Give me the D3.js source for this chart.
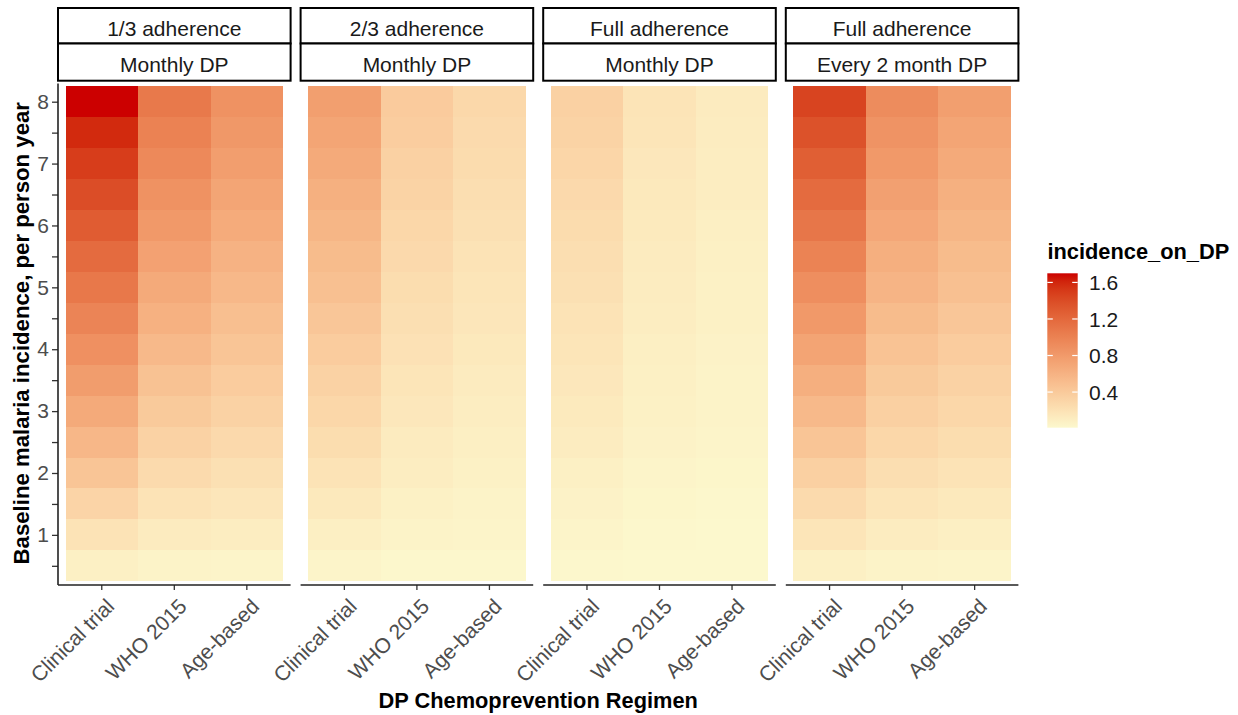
<!DOCTYPE html>
<html>
<head>
<meta charset="utf-8">
<script src="https://cdn.jsdelivr.net/npm/d3@7"></script>
<style>
  html, body { margin: 0; padding: 0; background: #fff; }
  svg { display: block; font-family: "Liberation Sans", Arial, sans-serif; }
</style>
</head>
<body>
<svg id="chart" width="1238" height="715"></svg>
<script>
// ---------------- DATA ----------------
const regimens = ["Clinical trial", "WHO 2015", "Age-based"];
const stripTop = ["1/3 adherence", "2/3 adherence", "Full adherence", "Full adherence"];
const stripBottom = ["Monthly DP", "Monthly DP", "Monthly DP", "Every 2 month DP"];
const baseline = [0.5, 1, 1.5, 2, 2.5, 3, 3.5, 4, 4.5, 5, 5.5, 6, 6.5, 7, 7.5, 8];
const yTickLabels = ["1", "2", "3", "4", "5", "6", "7", "8"];
const legendTicks = [0.4, 0.8, 1.2, 1.6];

// incidence_on_DP, ordered by baseline (0.5 -> 8)
const adh13_clinical = [0.08, 0.19, 0.31, 0.44, 0.56, 0.67, 0.78, 0.88, 0.98, 1.08, 1.18, 1.29, 1.39, 1.49, 1.59, 1.70];
const adh13_who      = [0.05, 0.12, 0.19, 0.26, 0.33, 0.40, 0.47, 0.54, 0.61, 0.67, 0.74, 0.81, 0.87, 0.94, 1.00, 1.07];
const adh13_age      = [0.04, 0.10, 0.16, 0.21, 0.27, 0.33, 0.38, 0.44, 0.49, 0.55, 0.60, 0.66, 0.71, 0.77, 0.82, 0.87];

const adh23_clinical = [0.04, 0.09, 0.14, 0.19, 0.24, 0.29, 0.33, 0.38, 0.43, 0.48, 0.52, 0.57, 0.62, 0.67, 0.71, 0.76];
const adh23_who      = [0.02, 0.05, 0.07, 0.10, 0.12, 0.15, 0.17, 0.20, 0.22, 0.24, 0.27, 0.29, 0.32, 0.34, 0.37, 0.39];
const adh23_age      = [0.02, 0.04, 0.05, 0.07, 0.09, 0.10, 0.12, 0.14, 0.16, 0.17, 0.19, 0.21, 0.23, 0.25, 0.26, 0.28];

const full_clinical  = [0.02, 0.04, 0.06, 0.08, 0.11, 0.13, 0.15, 0.17, 0.19, 0.21, 0.23, 0.25, 0.27, 0.30, 0.32, 0.34];
const full_who       = [0.01, 0.02, 0.03, 0.04, 0.06, 0.07, 0.08, 0.09, 0.10, 0.11, 0.12, 0.13, 0.14, 0.15, 0.17, 0.18];
const full_age       = [0.01, 0.01, 0.02, 0.03, 0.04, 0.05, 0.05, 0.06, 0.07, 0.07, 0.08, 0.09, 0.10, 0.10, 0.11, 0.12];

const full2m_clinical = [0.08, 0.17, 0.26, 0.35, 0.44, 0.54, 0.63, 0.72, 0.81, 0.90, 0.99, 1.09, 1.18, 1.27, 1.36, 1.45];
const full2m_who      = [0.05, 0.11, 0.17, 0.23, 0.29, 0.35, 0.40, 0.46, 0.52, 0.58, 0.63, 0.69, 0.75, 0.81, 0.86, 0.92];
const full2m_age      = [0.04, 0.09, 0.14, 0.19, 0.24, 0.29, 0.33, 0.38, 0.43, 0.48, 0.52, 0.57, 0.62, 0.67, 0.71, 0.76];

const facetSeries = [
  [adh13_clinical, adh13_who, adh13_age],
  [adh23_clinical, adh23_who, adh23_age],
  [full_clinical, full_who, full_age],
  [full2m_clinical, full2m_who, full2m_age]
];

// ---------------- LAYOUT ----------------
const svg = d3.select("#chart");
const panelW = 232.6, panelGap = 10.0, panelLeft0 = 58;
const panelTop = 83.5, panelBottom = 585;
const stripY0 = 8.0, stripMid = 43.5, stripY1 = 80.7;
const textCol = "#4D4D4D";
const fs = 21, fsTitle = 21.8;

const tiles = [];
facetSeries.forEach((series, f) => {
  series.forEach((vals, r) => {
    vals.forEach((v, i) => tiles.push({ facet: f, regimen: regimens[r], baseline: baseline[i], value: v }));
  });
});

const extent = d3.extent(tiles, d => d.value);
const color = d3.scaleLinear().domain(extent).range(["#FCF8CD", "#CC0000"]).interpolate(d3.interpolateLab);

const y = d3.scaleLinear().domain([0.19, 8.294]).range([panelBottom, panelTop]);

const facetPos = d3.range(4).map(f => panelLeft0 + f * (panelW + panelGap));

facetPos.forEach((left, f) => {
  const x = d3.scaleBand().domain(regimens).range([left + 7.5, left + panelW - 7.5]).padding(0);
  const g = svg.append("g");

  // tiles
  g.selectAll("rect.tile")
    .data(tiles.filter(d => d.facet === f))
    .join("rect")
    .attr("class", "tile")
    .attr("x", d => x(d.regimen))
    .attr("width", x.bandwidth())
    .attr("y", d => y(d.baseline + 0.25))
    .attr("height", d => y(d.baseline - 0.25) - y(d.baseline + 0.25))
    .attr("fill", d => color(d.value))
    .attr("shape-rendering", "crispEdges");

  // strips
  [[stripY0, stripMid, stripTop[f]], [stripMid, stripY1, stripBottom[f]]].forEach(([a, b, label]) => {
    g.append("rect")
      .attr("x", left).attr("y", a)
      .attr("width", panelW).attr("height", b - a)
      .attr("fill", "#fff").attr("stroke", "#000").attr("stroke-width", 2);
    g.append("text")
      .attr("x", left + panelW / 2).attr("y", (a + b) / 2 + 10)
      .attr("text-anchor", "middle")
      .attr("font-size", fs).attr("fill", "#1A1A1A")
      .text(label);
  });

  // x axis
  const xAxis = d3.axisBottom(x).tickSize(5).tickSizeOuter(0);
  const ax = g.append("g").attr("transform", `translate(0,${panelBottom})`).call(xAxis);
  ax.select(".domain").remove();
  ax.selectAll(".tick line").attr("stroke", "#333").attr("stroke-width", 1.3);
  ax.selectAll(".tick text")
    .attr("font-size", fs).attr("fill", textCol)
    .attr("text-anchor", "end")
    .attr("dy", "0.72em").attr("y", 0)
    .attr("transform", "translate(3,12) rotate(-45)");
  g.append("line")
    .attr("x1", left).attr("x2", left + panelW)
    .attr("y1", panelBottom).attr("y2", panelBottom)
    .attr("stroke", "#222").attr("stroke-width", 1.6);

  if (f === 0) {
    const yAxis = d3.axisLeft(y).tickValues(baseline).tickSize(6).tickSizeOuter(0).tickPadding(3)
      .tickFormat(v => Number.isInteger(v) ? yTickLabels[v - 1] : "");
    const ay = g.append("g").attr("transform", `translate(${left},0)`).call(yAxis);
    ay.select(".domain").remove();
    ay.selectAll(".tick line").attr("stroke", "#333").attr("stroke-width", 1.3);
    ay.selectAll(".tick text").attr("font-size", fs).attr("fill", textCol);
    g.append("line")
      .attr("x1", left).attr("x2", left)
      .attr("y1", panelTop).attr("y2", panelBottom)
      .attr("stroke", "#222").attr("stroke-width", 1.6);
  }
});

// axis titles
svg.append("text")
  .attr("x", (panelLeft0 + facetPos[3] + panelW) / 2).attr("y", 708)
  .attr("text-anchor", "middle").attr("font-size", fsTitle).attr("font-weight", "bold").attr("fill", "#000")
  .text("DP Chemoprevention Regimen");

svg.append("text")
  .attr("transform", `translate(29,${(panelTop + panelBottom) / 2 - 1}) rotate(-90)`)
  .attr("text-anchor", "middle").attr("font-size", fsTitle + 0.4).attr("font-weight", "bold").attr("fill", "#000")
  .text("Baseline malaria incidence, per person year");

// ---------------- LEGEND ----------------
const lgX = 1047.3, lgW = 30.4, lgTop = 273.3, lgBottom = 427.7;
const lg = svg.append("g");
lg.append("text")
  .attr("x", 1047.5).attr("y", 258.5)
  .attr("font-size", fsTitle).attr("font-weight", "bold").attr("fill", "#000")
  .text("incidence_on_DP");

const grad = svg.append("defs").append("linearGradient")
  .attr("id", "lgGrad").attr("x1", 0).attr("x2", 0).attr("y1", 1).attr("y2", 0);
d3.range(0, 1.0001, 0.05).forEach(t => {
  grad.append("stop").attr("offset", t).attr("stop-color", color(extent[0] + t * (extent[1] - extent[0])));
});
lg.append("rect")
  .attr("x", lgX).attr("y", lgTop).attr("width", lgW).attr("height", lgBottom - lgTop)
  .attr("fill", "url(#lgGrad)");

const ly = d3.scaleLinear().domain(extent).range([lgBottom, lgTop]);
legendTicks.forEach(v => {
  const yy = ly(v);
  lg.append("line").attr("x1", lgX).attr("x2", lgX + 5.5).attr("y1", yy).attr("y2", yy)
    .attr("stroke", "#fff").attr("stroke-width", 1.2);
  lg.append("line").attr("x1", lgX + lgW - 5.5).attr("x2", lgX + lgW).attr("y1", yy).attr("y2", yy)
    .attr("stroke", "#fff").attr("stroke-width", 1.2);
  lg.append("text").attr("x", 1089).attr("y", yy).attr("dy", "0.36em")
    .attr("font-size", fs).attr("fill", "#1A1A1A")
    .text(v.toFixed(1));
});
</script>
</body>
</html>
